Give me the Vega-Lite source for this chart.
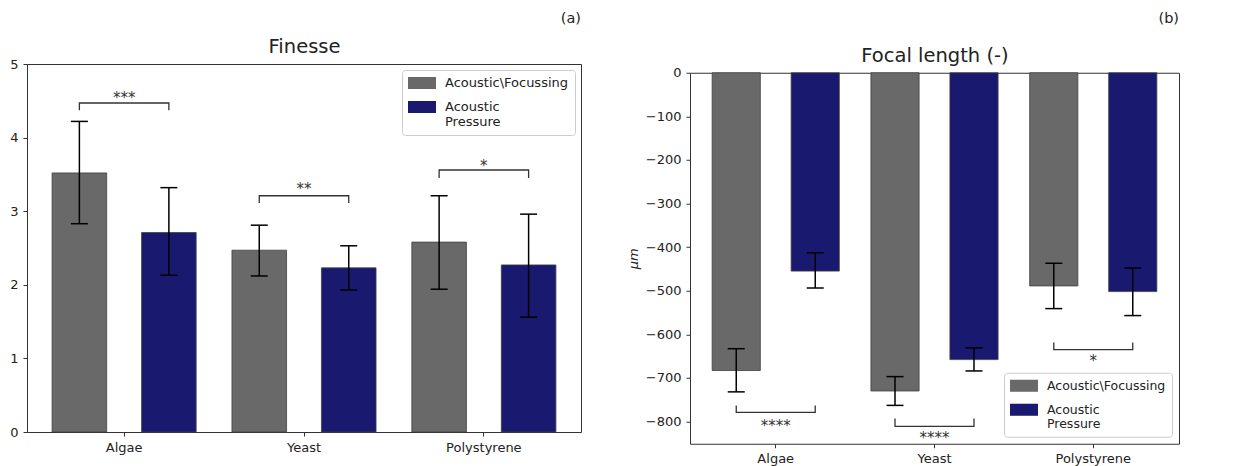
{
  "$schema": "https://vega.github.io/schema/vega-lite/v6.json",
  "padding": {"left": 9, "top": 10, "right": 5, "bottom": 0},
  "spacing": 44,
  "center": true,
  "datasets": {
    "L": [
      {"cat": "Algae", "series": "Acoustic\\Focussing", "v": 3.52, "lo": 2.83, "hi": 4.22},
      {"cat": "Algae", "series": "Acoustic Pressure", "v": 2.71, "lo": 2.13, "hi": 3.32},
      {"cat": "Yeast", "series": "Acoustic\\Focussing", "v": 2.47, "lo": 2.12, "hi": 2.81},
      {"cat": "Yeast", "series": "Acoustic Pressure", "v": 2.23, "lo": 1.93, "hi": 2.53},
      {"cat": "Polystyrene", "series": "Acoustic\\Focussing", "v": 2.58, "lo": 1.94, "hi": 3.21},
      {"cat": "Polystyrene", "series": "Acoustic Pressure", "v": 2.27, "lo": 1.56, "hi": 2.96}
    ],
    "R": [
      {"cat": "Algae", "series": "Acoustic\\Focussing", "v": -683, "lo": -732, "hi": -633},
      {"cat": "Algae", "series": "Acoustic Pressure", "v": -455, "lo": -494, "hi": -413},
      {"cat": "Yeast", "series": "Acoustic\\Focussing", "v": -730, "lo": -763, "hi": -697},
      {"cat": "Yeast", "series": "Acoustic Pressure", "v": -658, "lo": -684, "hi": -631},
      {"cat": "Polystyrene", "series": "Acoustic\\Focussing", "v": -489, "lo": -541, "hi": -437},
      {"cat": "Polystyrene", "series": "Acoustic Pressure", "v": -502, "lo": -557, "hi": -448}
    ],
    "BL": [
      {"b": "a", "cat": "Algae", "series": "Acoustic\\Focussing", "y": 4.37, "k": 0},
      {"b": "a", "cat": "Algae", "series": "Acoustic\\Focussing", "y": 4.47, "k": 1},
      {"b": "a", "cat": "Algae", "series": "Acoustic Pressure", "y": 4.47, "k": 2},
      {"b": "a", "cat": "Algae", "series": "Acoustic Pressure", "y": 4.37, "k": 3},
      {"b": "y", "cat": "Yeast", "series": "Acoustic\\Focussing", "y": 3.11, "k": 0},
      {"b": "y", "cat": "Yeast", "series": "Acoustic\\Focussing", "y": 3.21, "k": 1},
      {"b": "y", "cat": "Yeast", "series": "Acoustic Pressure", "y": 3.21, "k": 2},
      {"b": "y", "cat": "Yeast", "series": "Acoustic Pressure", "y": 3.11, "k": 3},
      {"b": "p", "cat": "Polystyrene", "series": "Acoustic\\Focussing", "y": 3.45, "k": 0},
      {"b": "p", "cat": "Polystyrene", "series": "Acoustic\\Focussing", "y": 3.56, "k": 1},
      {"b": "p", "cat": "Polystyrene", "series": "Acoustic Pressure", "y": 3.56, "k": 2},
      {"b": "p", "cat": "Polystyrene", "series": "Acoustic Pressure", "y": 3.45, "k": 3}
    ],
    "BR": [
      {"b": "a", "cat": "Algae", "series": "Acoustic\\Focussing", "y": -763, "k": 0},
      {"b": "a", "cat": "Algae", "series": "Acoustic\\Focussing", "y": -779, "k": 1},
      {"b": "a", "cat": "Algae", "series": "Acoustic Pressure", "y": -779, "k": 2},
      {"b": "a", "cat": "Algae", "series": "Acoustic Pressure", "y": -763, "k": 3},
      {"b": "y", "cat": "Yeast", "series": "Acoustic\\Focussing", "y": -793, "k": 0},
      {"b": "y", "cat": "Yeast", "series": "Acoustic\\Focussing", "y": -811, "k": 1},
      {"b": "y", "cat": "Yeast", "series": "Acoustic Pressure", "y": -811, "k": 2},
      {"b": "y", "cat": "Yeast", "series": "Acoustic Pressure", "y": -793, "k": 3},
      {"b": "p", "cat": "Polystyrene", "series": "Acoustic\\Focussing", "y": -619, "k": 0},
      {"b": "p", "cat": "Polystyrene", "series": "Acoustic\\Focussing", "y": -635, "k": 1},
      {"b": "p", "cat": "Polystyrene", "series": "Acoustic Pressure", "y": -635, "k": 2},
      {"b": "p", "cat": "Polystyrene", "series": "Acoustic Pressure", "y": -619, "k": 3}
    ],
    "SL": [
      {"cat": "Algae", "y": 4.47, "label": "***"},
      {"cat": "Yeast", "y": 3.23, "label": "**"},
      {"cat": "Polystyrene", "y": 3.54, "label": "*"}
    ],
    "SR": [
      {"cat": "Algae", "y": -822, "label": "****"},
      {"cat": "Yeast", "y": -849, "label": "****"},
      {"cat": "Polystyrene", "y": -673, "label": "*"}
    ]
  },
  "hconcat": [
    {
      "width": 554,
      "height": 368,
      "title": {"text": "(a)", "anchor": "end", "fontSize": 14.5, "fontWeight": "normal", "offset": 10, "font": "DejaVu Sans", "color": "#222"},
      "resolve": {"axis": {"x": "independent"}},
      "layer": [
        {
          "data": {"name": "L"},
          "mark": {"type": "bar", "stroke": "#404040", "strokeWidth": 0.8},
          "encoding": {
            "x": {"field": "cat", "type": "nominal", "sort": ["Algae", "Yeast", "Polystyrene"], "scale": {"paddingInner": 0, "paddingOuter": 0.04}, "axis": {"title": "\u00a0", "titlePadding": 8, "titleFontSize": 12.5, "labelAngle": 0, "orient": "bottom"}},
            "xOffset": {"field": "series", "type": "nominal", "sort": ["Acoustic\\Focussing", "Acoustic Pressure"], "scale": {"paddingInner": 0.39, "paddingOuter": 0.2}},
            "y": {"field": "v", "type": "quantitative", "scale": {"domain": [0, 5], "nice": false, "zero": false}, "axis": {"values": [0, 1, 2, 3, 4, 5], "title": null}},
            "color": {"field": "series", "type": "nominal", "sort": ["Acoustic\\Focussing", "Acoustic Pressure"], "scale": {"domain": ["Acoustic\\Focussing", "Acoustic Pressure"], "range": ["#696969", "#191970"]},
              "legend": {"orient": "top-right", "offset": 6, "labelExpr": "datum.label == 'Acoustic Pressure' ? ['Acoustic', 'Pressure'] : datum.label"}}
          }
        },
        {
          "data": {"name": "L"},
          "mark": {"type": "rule", "color": "black", "strokeWidth": 1.5},
          "encoding": {
            "x": {"field": "cat", "type": "nominal", "sort": ["Algae", "Yeast", "Polystyrene"], "axis": null},
            "xOffset": {"field": "series", "type": "nominal", "sort": ["Acoustic\\Focussing", "Acoustic Pressure"]},
            "y": {"field": "lo", "type": "quantitative", "axis": {"values": [0, 1, 2, 3, 4, 5], "title": null}},
            "y2": {"field": "hi"}
          }
        },
        {
          "data": {"name": "L"},
          "mark": {"type": "tick", "color": "black", "thickness": 1.5, "size": 17, "opacity": 1},
          "encoding": {
            "x": {"field": "cat", "type": "nominal", "sort": ["Algae", "Yeast", "Polystyrene"], "axis": null},
            "xOffset": {"field": "series", "type": "nominal", "sort": ["Acoustic\\Focussing", "Acoustic Pressure"]},
            "y": {"field": "lo", "type": "quantitative", "axis": {"values": [0, 1, 2, 3, 4, 5], "title": null}}
          }
        },
        {
          "data": {"name": "L"},
          "mark": {"type": "tick", "color": "black", "thickness": 1.5, "size": 17, "opacity": 1},
          "encoding": {
            "x": {"field": "cat", "type": "nominal", "sort": ["Algae", "Yeast", "Polystyrene"], "axis": null},
            "xOffset": {"field": "series", "type": "nominal", "sort": ["Acoustic\\Focussing", "Acoustic Pressure"]},
            "y": {"field": "hi", "type": "quantitative", "axis": {"values": [0, 1, 2, 3, 4, 5], "title": null}}
          }
        },
        {
          "data": {"name": "BL"},
          "mark": {"type": "line", "color": "#333", "strokeWidth": 1.3},
          "encoding": {
            "x": {"field": "cat", "type": "nominal", "sort": ["Algae", "Yeast", "Polystyrene"], "axis": null},
            "xOffset": {"field": "series", "type": "nominal", "sort": ["Acoustic\\Focussing", "Acoustic Pressure"]},
            "y": {"field": "y", "type": "quantitative", "axis": {"values": [0, 1, 2, 3, 4, 5], "title": null}},
            "detail": {"field": "b"},
            "order": {"field": "k"}
          }
        },
        {
          "data": {"name": "SL"},
          "mark": {"type": "text", "fontSize": 15, "font": "DejaVu Sans", "color": "#333", "baseline": "alphabetic"},
          "encoding": {
            "x": {"field": "cat", "type": "nominal", "sort": ["Algae", "Yeast", "Polystyrene"], "axis": {"orient": "top", "title": "Finesse", "labels": false, "ticks": false, "domain": false, "titleFontSize": 19.5, "titlePadding": 8, "titleFontWeight": "normal"}},
            "y": {"field": "y", "type": "quantitative", "axis": {"values": [0, 1, 2, 3, 4, 5], "title": null}},
            "text": {"field": "label"}
          }
        }
      ]
    },
    {
      "width": 489,
      "height": 371,
      "title": {"text": "(b)", "anchor": "end", "fontSize": 14.5, "fontWeight": "normal", "offset": 19, "font": "DejaVu Sans", "color": "#222"},
      "resolve": {"axis": {"x": "independent"}},
      "layer": [
        {
          "data": {"name": "R"},
          "mark": {"type": "bar", "stroke": "#404040", "strokeWidth": 0.8},
          "encoding": {
            "x": {"field": "cat", "type": "nominal", "sort": ["Algae", "Yeast", "Polystyrene"], "scale": {"paddingInner": 0, "paddingOuter": 0.04}, "axis": {"title": null, "labelAngle": 0, "orient": "bottom"}},
            "xOffset": {"field": "series", "type": "nominal", "sort": ["Acoustic\\Focussing", "Acoustic Pressure"], "scale": {"paddingInner": 0.39, "paddingOuter": 0.2}},
            "y": {"field": "v", "type": "quantitative", "scale": {"domain": [-851, 0], "nice": false, "zero": false}, "axis": {"values": [-800, -700, -600, -500, -400, -300, -200, -100, 0], "title": "μm", "titleFontStyle": "italic", "titleFontWeight": "normal", "titleFontSize": 13, "titlePadding": 5}},
            "color": {"field": "series", "type": "nominal", "sort": ["Acoustic\\Focussing", "Acoustic Pressure"], "scale": {"domain": ["Acoustic\\Focussing", "Acoustic Pressure"], "range": ["#696969", "#191970"]},
              "legend": {"orient": "bottom-right", "offset": 7, "labelFontSize": 12.5, "labelExpr": "datum.label == 'Acoustic Pressure' ? ['Acoustic', 'Pressure'] : datum.label"}}
          }
        },
        {
          "data": {"name": "R"},
          "mark": {"type": "rule", "color": "black", "strokeWidth": 1.5},
          "encoding": {
            "x": {"field": "cat", "type": "nominal", "sort": ["Algae", "Yeast", "Polystyrene"], "axis": null},
            "xOffset": {"field": "series", "type": "nominal", "sort": ["Acoustic\\Focussing", "Acoustic Pressure"]},
            "y": {"field": "lo", "type": "quantitative", "axis": {"values": [-800, -700, -600, -500, -400, -300, -200, -100, 0], "title": "μm", "titleFontStyle": "italic", "titleFontWeight": "normal", "titleFontSize": 13, "titlePadding": 5}},
            "y2": {"field": "hi"}
          }
        },
        {
          "data": {"name": "R"},
          "mark": {"type": "tick", "color": "black", "thickness": 1.5, "size": 17, "opacity": 1},
          "encoding": {
            "x": {"field": "cat", "type": "nominal", "sort": ["Algae", "Yeast", "Polystyrene"], "axis": null},
            "xOffset": {"field": "series", "type": "nominal", "sort": ["Acoustic\\Focussing", "Acoustic Pressure"]},
            "y": {"field": "lo", "type": "quantitative", "axis": {"values": [-800, -700, -600, -500, -400, -300, -200, -100, 0], "title": "μm", "titleFontStyle": "italic", "titleFontWeight": "normal", "titleFontSize": 13, "titlePadding": 5}}
          }
        },
        {
          "data": {"name": "R"},
          "mark": {"type": "tick", "color": "black", "thickness": 1.5, "size": 17, "opacity": 1},
          "encoding": {
            "x": {"field": "cat", "type": "nominal", "sort": ["Algae", "Yeast", "Polystyrene"], "axis": null},
            "xOffset": {"field": "series", "type": "nominal", "sort": ["Acoustic\\Focussing", "Acoustic Pressure"]},
            "y": {"field": "hi", "type": "quantitative", "axis": {"values": [-800, -700, -600, -500, -400, -300, -200, -100, 0], "title": "μm", "titleFontStyle": "italic", "titleFontWeight": "normal", "titleFontSize": 13, "titlePadding": 5}}
          }
        },
        {
          "data": {"name": "BR"},
          "mark": {"type": "line", "color": "#333", "strokeWidth": 1.3},
          "encoding": {
            "x": {"field": "cat", "type": "nominal", "sort": ["Algae", "Yeast", "Polystyrene"], "axis": null},
            "xOffset": {"field": "series", "type": "nominal", "sort": ["Acoustic\\Focussing", "Acoustic Pressure"]},
            "y": {"field": "y", "type": "quantitative", "axis": {"values": [-800, -700, -600, -500, -400, -300, -200, -100, 0], "title": "μm", "titleFontStyle": "italic", "titleFontWeight": "normal", "titleFontSize": 13, "titlePadding": 5}},
            "detail": {"field": "b"},
            "order": {"field": "k"}
          }
        },
        {
          "data": {"name": "SR"},
          "mark": {"type": "text", "fontSize": 15, "font": "DejaVu Sans", "color": "#333", "baseline": "alphabetic"},
          "encoding": {
            "x": {"field": "cat", "type": "nominal", "sort": ["Algae", "Yeast", "Polystyrene"], "axis": {"orient": "top", "title": "Focal length (-)", "labels": false, "ticks": false, "domain": false, "titleFontSize": 19.5, "titlePadding": 7, "titleFontWeight": "normal"}},
            "y": {"field": "y", "type": "quantitative", "axis": {"values": [-800, -700, -600, -500, -400, -300, -200, -100, 0], "title": "μm", "titleFontStyle": "italic", "titleFontWeight": "normal", "titleFontSize": 13, "titlePadding": 5}},
            "text": {"field": "label"}
          }
        }
      ]
    }
  ],
  "resolve": {
    "scale": {"x": "independent", "y": "independent", "xOffset": "independent"},
    "legend": {"color": "independent"}
  },
  "config": {
    "font": "DejaVu Sans",
    "view": {"stroke": "#333", "strokeWidth": 1},
    "axis": {
      "grid": false,
      "domain": false,
      "tickColor": "#333",
      "tickSize": 4,
      "tickWidth": 1,
      "labelPadding": 5,
      "labelFont": "DejaVu Sans",
      "labelFontSize": 13,
      "labelColor": "#222",
      "titleFont": "DejaVu Sans",
      "titleColor": "#222"
    },
    "legend": {
      "title": null,
      "labelFont": "DejaVu Sans",
      "labelFontSize": 13,
      "labelColor": "#222",
      "labelLimit": 300,
      "labelOffset": 23,
      "symbolType": "M-1,-0.86L3,-0.86L3,0.86L-1,0.86Z",
      "symbolSize": 196,
      "symbolStrokeWidth": 0,
      "symbolOpacity": 1,
      "rowPadding": 10,
      "padding": 6,
      "strokeColor": "#cccccc",
      "fillColor": "white",
      "cornerRadius": 3
    }
  }
}
